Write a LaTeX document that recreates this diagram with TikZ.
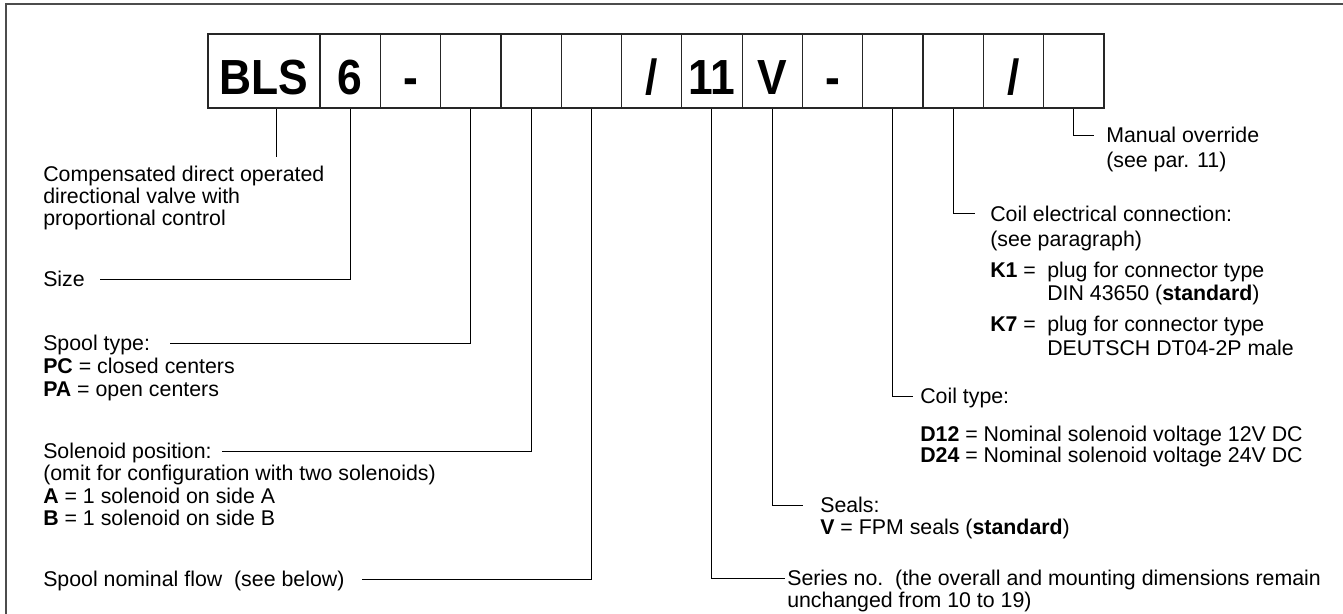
\documentclass[tikz,border=0pt]{standalone}
\usepackage{fontspec}
\setmainfont{Liberation Sans}
\newfontfamily\boxfont{Liberation Sans}[FakeStretch=0.9]
\begin{document}
\begin{tikzpicture}[x=0.75pt,y=-0.75pt,
  cell/.style={draw=black!85, line width=0.9pt, inner sep=0pt, minimum height=55.5pt,
    minimum width=45.225pt, text height=34.5pt, text depth=0pt,
    font=\boxfont\bfseries\fontsize{37}{37}\selectfont},
  widecell/.style={cell, minimum width=84pt},
  lead/.style={line width=0.75pt, draw=black},
  lab/.style={anchor=base west, inner sep=0pt, font=\fontsize{16}{19}\selectfont},
  frameline/.style={line width=1.2pt, draw=black!70}]
\useasboundingbox (0,0) rectangle (1343,614);
\draw[frameline] (6,614) -- (6,4) -- (1343,4);
% code boxes
\node[widecell] (bls) at (264,71) {BLS};
\node[cell] (c6) at (350.15,71) {6};
\node[cell] (dasha) at (410.45,71) {-};
\node[cell] (ea) at (470.75,71) {};
\node[cell] (eb) at (531.05,71) {};
\node[cell] (ec) at (591.35,71) {};
\node[cell] (sla) at (651.65,71) {/};
\node[cell] (c11) at (711.95,71) {11};
\node[cell] (cv) at (772.25,71) {V};
\node[cell] (dashb) at (832.55,71) {-};
\node[cell] (ed) at (892.85,71) {};
\node[cell] (ee) at (953.15,71) {};
\node[cell] (slb) at (1013.45,71) {/};
\node[cell] (ef) at (1073.75,71) {};
% leader ends
\coordinate (blsE) at (276,157);
\coordinate (sizeE) at (100,279);
\coordinate (spoolE) at (170,343);
\coordinate (solE) at (222,451);
\coordinate (flowE) at (362,579);
\coordinate (serE) at (785,578);
\coordinate (sealE) at (803,505);
\coordinate (coilE) at (913,396);
\coordinate (connE) at (975,213);
\coordinate (manE) at (1094,135);
% leaders
\draw[lead] (blsE |- bls.south) -- (blsE);
\draw[lead] (c6.south) |- (sizeE);
\draw[lead] (ea.south) |- (spoolE);
\draw[lead] (eb.south) |- (solE);
\draw[lead] (ec.south) |- (flowE);
\draw[lead] (c11.south) |- (serE);
\draw[lead] (cv.south) |- (sealE);
\draw[lead] (ed.south) |- (coilE);
\draw[lead] (ee.south) |- (connE);
\draw[lead] (ef.south) |- (manE);
% left labels
\node[lab] (cmpa) at (43,181) {Compensated direct operated};
\node[lab] (cmpb) at (43,203) {directional valve with};
\node[lab] (cmpc) at (43,225) {proportional control};
\node[lab] (size) at (43,286) {Size};
\node[lab] (spa) at (43,350) {Spool type:};
\node[lab] (spb) at (43,373) {\textbf{PC} = closed centers};
\node[lab] (spc) at (43,396) {\textbf{PA} = open centers};
\node[lab] (soa) at (43,458) {Solenoid position:};
\node[lab] (sob) at (43,480) {(omit for configuration with two solenoids)};
\node[lab] (soc) at (43,503) {\textbf{A} = 1 solenoid on side A};
\node[lab] (sod) at (43,525) {\textbf{B} = 1 solenoid on side B};
\node[lab] (flow) at (43,586) {Spool nominal flow\ \ (see below)};
% right labels
\node[lab] (sea) at (787,585) {Series no.\ \ (the overall and mounting dimensions remain};
\node[lab] (seb) at (787,607) {unchanged from 10 to 19)};
\node[lab] (sla1) at (820,512) {Seals:};
\node[lab] (sla2) at (820,534) {\textbf{V} = FPM seals (\textbf{standard})};
\node[lab] (cta) at (920,403) {Coil type:};
\node[lab] (ctb) at (920,441) {\textbf{D12} = Nominal solenoid voltage 12V DC};
\node[lab] (ctc) at (920,462) {\textbf{D24} = Nominal solenoid voltage 24V DC};
\node[lab] (cea) at (990,221) {Coil electrical connection:};
\node[lab] (ceb) at (990,246) {(see paragraph)};
\node[lab] (ka) at (990,277) {\textbf{K1} =};
\node[lab] (kaa) at (1047,277) {plug for connector type};
\node[lab] (kab) at (1047,300) {DIN 43650 (\textbf{standard})};
\node[lab] (kb) at (990,331) {\textbf{K7} =};
\node[lab] (kba) at (1047,331) {plug for connector type};
\node[lab] (kbb) at (1047,355) {DEUTSCH DT04-2P male};
\node[lab] (moa) at (1106,142) {Manual override};
\node[lab] (mob) at (1106,167) {(see par. 11)};
\end{tikzpicture}
\end{document}
